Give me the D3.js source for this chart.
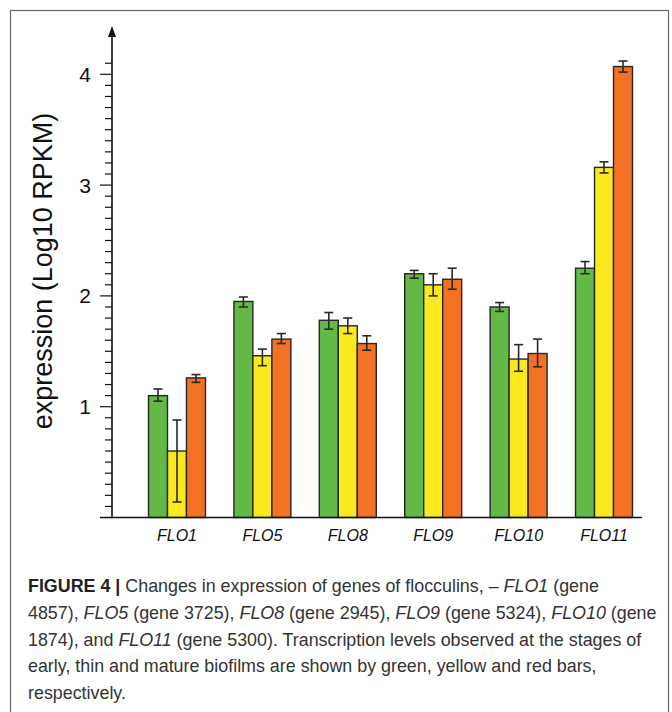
<!DOCTYPE html>
<html><head><meta charset="utf-8">
<script src="https://cdn.jsdelivr.net/npm/d3@7"></script>
<style>body{margin:0;background:#fff;} svg{display:block;}</style>
</head><body>
<script>
// ---- data ----
const genes = ["FLO1","FLO5","FLO8","FLO9","FLO10","FLO11"];
const stages = ["early","thin","mature"];
const early  = [1.10, 1.95, 1.78, 2.20, 1.90, 2.25];
const thin   = [0.60, 1.46, 1.73, 2.10, 1.43, 3.16];
const mature = [1.26, 1.61, 1.57, 2.15, 1.48, 4.07];
const earlyHi  = [1.16, 1.99, 1.85, 2.23, 1.94, 2.31];
const earlyLo  = [1.05, 1.90, 1.70, 2.16, 1.86, 2.20];
const thinHi   = [0.88, 1.52, 1.80, 2.20, 1.56, 3.21];
const thinLo   = [0.14, 1.37, 1.66, 2.00, 1.32, 3.11];
const matureHi = [1.29, 1.66, 1.64, 2.25, 1.61, 4.12];
const matureLo = [1.22, 1.57, 1.51, 2.06, 1.36, 4.02];
const yTickLabels = ["1","2","3","4"];
const colors = ["#62b946","#fbe91f","#f27123"];

const W = 672, H = 712;
const svg = d3.select("body").append("svg").attr("width", W).attr("height", H);

// frame
svg.append("rect").attr("x",10.5).attr("y",10.5).attr("width",658).attr("height",H).attr("fill","none").attr("stroke","#666").attr("stroke-width",1.2);

const x0 = d3.scaleBand().domain(genes).range([148.5, 632.5]).paddingInner(0.333).paddingOuter(0);
const x1 = d3.scaleBand().domain(stages).range([0, x0.bandwidth()]).padding(0);
const y = d3.scaleLinear().domain([0, 4]).range([517.5, 74.3]);

const series = [
  {vals: early, hi: earlyHi, lo: earlyLo},
  {vals: thin, hi: thinHi, lo: thinLo},
  {vals: mature, hi: matureHi, lo: matureLo}
];
const rows = [];
genes.forEach((g,i)=>series.forEach((s,j)=>rows.push({g, st: stages[j], v: s.vals[i], hi: s.hi[i], lo: s.lo[i], c: colors[j]})));

const gBars = svg.append("g");
gBars.selectAll("rect").data(rows).join("rect")
  .attr("x", d=>x0(d.g)+x1(d.st))
  .attr("y", d=>y(d.v))
  .attr("width", x1.bandwidth())
  .attr("height", d=>y(0)-y(d.v))
  .attr("fill", d=>d.c)
  .attr("stroke", "#262626").attr("stroke-width", 1.4);

// error bars
const gErr = svg.append("g").attr("stroke","#2a2a2a").attr("stroke-width",1.6);
rows.forEach(d=>{
  const cx = x0(d.g)+x1(d.st)+x1.bandwidth()/2;
  gErr.append("line").attr("x1",cx).attr("x2",cx).attr("y1",y(d.hi)).attr("y2",y(d.lo));
  gErr.append("line").attr("x1",cx-4.5).attr("x2",cx+4.5).attr("y1",y(d.hi)).attr("y2",y(d.hi));
  gErr.append("line").attr("x1",cx-4.5).attr("x2",cx+4.5).attr("y1",y(d.lo)).attr("y2",y(d.lo));
});

// x axis baseline
const axX = 112;
svg.append("line").attr("x1",100).attr("x2",642).attr("y1",y(0)).attr("y2",y(0)).attr("stroke","#111").attr("stroke-width",1.4);
// y axis
svg.append("line").attr("x1",axX).attr("x2",axX).attr("y1",y(0)+1).attr("y2",34).attr("stroke","#111").attr("stroke-width",1.6);
svg.append("path").attr("d",`M${axX-4},37 L${axX},26 L${axX+4},37 Z`).attr("fill","#111");

// ticks
const minor = d3.range(1, 42).map(i=>i/10);
svg.append("g").selectAll("line").data(minor).join("line")
  .attr("x1", d=> (Math.abs(d-Math.round(d))<1e-6) ? axX-12 : axX-7)
  .attr("x2", axX)
  .attr("y1", d=>y(d)).attr("y2", d=>y(d))
  .attr("stroke","#111").attr("stroke-width",1.2);

svg.append("g").selectAll("text").data(yTickLabels).join("text")
  .attr("x", 91).attr("y", d=>y(+d)).attr("dy","0.36em")
  .attr("text-anchor","end")
  .attr("font-family","Liberation Sans, Arial, sans-serif").attr("font-size",21).attr("fill","#111")
  .text(d=>d);

svg.append("text").attr("transform","translate(52,271) rotate(-90)")
  .attr("text-anchor","middle")
  .attr("font-family","Liberation Sans, Arial, sans-serif").attr("font-size",27).attr("fill","#111")
  .text("expression (Log10 RPKM)");

svg.append("g").selectAll("text").data(genes).join("text")
  .attr("x", d=>x0(d)+x0.bandwidth()/2).attr("y", 541)
  .attr("text-anchor","middle")
  .attr("font-family","Liberation Sans, Arial, sans-serif").attr("font-style","italic").attr("font-size",16).attr("fill","#111")
  .text(d=>d);

// caption
const capLines = [
  [["b","FIGURE 4 | "],["n","Changes in expression of genes of flocculins, – "],["i","FLO1"],["n"," (gene"]],
  [["n","4857), "],["i","FLO5"],["n"," (gene 3725), "],["i","FLO8"],["n"," (gene 2945), "],["i","FLO9"],["n"," (gene 5324), "],["i","FLO10"],["n"," (gene"]],
  [["n","1874), and "],["i","FLO11"],["n"," (gene 5300). Transcription levels observed at the stages of"]],
  [["n","early, thin and mature biofilms are shown by green, yellow and red bars,"]],
  [["n","respectively."]]
];
const cap = svg.append("g").attr("font-family","Liberation Sans, Arial, sans-serif").attr("fill","#333");
let fs = 17;
const texts = capLines.map((ln,k)=>{
  const t = cap.append("text").attr("x",28).attr("y",592+k*26.8);
  ln.forEach(([s,str])=>{
    const sp = t.append("tspan").text(str);
    if(s==="b"){sp.attr("font-weight","bold").attr("fill","#222");}
    if(s==="i"){sp.attr("font-style","italic");}
  });
  return t;
});
texts.forEach(t=>t.attr("font-size",fs));
const w2 = texts[1].node().getComputedTextLength();
fs = fs*629/w2;
texts.forEach(t=>t.attr("font-size",fs));
</script>
</body></html>
